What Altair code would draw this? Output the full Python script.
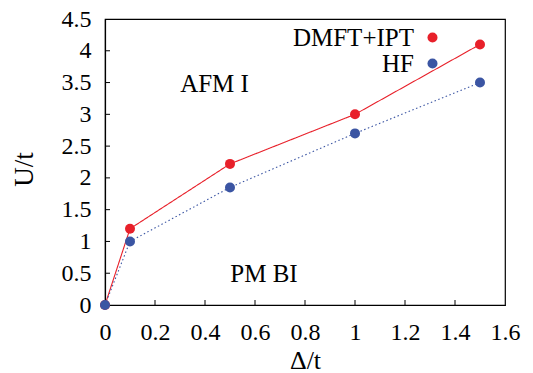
import altair as alt
import pandas as pd

delta = [0.0, 0.1, 0.5, 1.0, 1.5]
u_dmft = [0.0, 1.2, 2.22, 3.0, 4.1]
u_hf = [0.0, 1.0, 1.85, 2.7, 3.5]
series_names = ["DMFT+IPT", "HF"]
colors = ["#e8202a", "#3b55a3"]

x_ticks = [0, 0.2, 0.4, 0.6, 0.8, 1, 1.2, 1.4, 1.6]
y_ticks = [0, 0.5, 1, 1.5, 2, 2.5, 3, 3.5, 4, 4.5]

rows = []
for d, u in zip(delta, u_dmft):
    rows.append({"delta": d, "U": u, "series": series_names[0]})
for d, u in zip(delta, u_hf):
    rows.append({"delta": d, "U": u, "series": series_names[1]})
df = pd.DataFrame(rows)

ann_text = ["AFM I", "PM BI"]
ann_x = [0.438, 0.636]
ann_y = [3.48, 0.495]
ann = pd.DataFrame({"x": ann_x, "y": ann_y, "t": ann_text})

FONT = "Liberation Serif"
xscale = alt.Scale(domain=[0, 1.6], nice=False)
yscale = alt.Scale(domain=[0, 4.5], nice=False)
cscale = alt.Scale(domain=series_names, range=colors)

xaxis = alt.Axis(values=x_ticks, tickSize=0, labelExpr="format(datum.value, '~g')",
                 labelOverlap=False, labelFont=FONT, labelFontSize=24,
                 titleFont=FONT, titleFontSize=26, titleFontWeight="normal",
                 labelPadding=15, titleY=55, titleBaseline="middle", grid=False,
                 labelFlush=False)
yaxis = alt.Axis(values=y_ticks, tickSize=0, labelExpr="format(datum.value, '~g')",
                 labelOverlap=False, labelFont=FONT, labelFontSize=24,
                 titleFont=FONT, titleFontSize=27, titleFontWeight="normal",
                 labelPadding=14, titleX=-81, titleY=150, titleBaseline="middle",
                 titleAlign="center", grid=False, labelFlush=False)


def X(field):
    return alt.X(field, type="quantitative", scale=xscale, axis=xaxis, title="Δ/t")


def Y(field):
    return alt.Y(field, type="quantitative", scale=yscale, axis=yaxis, title="U/t")


legend = alt.Legend(title=None, orient="none", legendX=315, legendY=6,
                    labelAlign="right", labelOffset={"expr": "-31"}, labelFontSize=25,
                    labelFont=FONT, symbolSize=100, symbolType="circle", symbolStrokeWidth=0,
                    rowPadding=0, padding=0, labelLimit=300)

lines = alt.Chart(df).mark_line(strokeWidth=1.1, clip=False).encode(
    x=X("delta"), y=Y("U"),
    color=alt.Color("series:N", scale=cscale, legend=legend),
    strokeDash=alt.StrokeDash("series:N", scale=alt.Scale(domain=series_names, range=[[1, 0], [1.5, 2.5]]), legend=None),
)

pts = alt.Chart(df).mark_circle(size=100, opacity=1, clip=False).encode(
    x=X("delta"), y=Y("U"),
    color=alt.Color("series:N", scale=cscale, legend=legend),
)

xt = pd.DataFrame({"v": x_ticks[1:-1]})
yt = pd.DataFrame({"w": y_ticks[1:-1]})
ticks_x = alt.Chart(xt).mark_rule(color="black", strokeWidth=1).encode(
    x=X("v"),
    y=alt.value(281),
    y2=alt.value(286),
)
ticks_y = alt.Chart(yt).mark_rule(color="black", strokeWidth=1).encode(
    y=Y("w"),
    x=alt.value(0),
    x2=alt.value(5),
)

texts = alt.Chart(ann).mark_text(font=FONT, fontSize=25, color="black").encode(
    x=X("x"), y=Y("y"), text="t:N"
)

chart = alt.layer(lines, ticks_x, ticks_y, pts, texts).properties(
    width=400, height=286,
    autosize=alt.AutoSizeParams(type="none"),
    padding={"left": 105, "top": 19, "right": 28, "bottom": 68},
    background="white",
).configure_view(stroke="black", strokeWidth=1.2).configure_axis(
    labelColor="black", titleColor="black", domainColor="black", tickColor="black",
    domainWidth=1.2,
)

chart.save("out.html", embed_options={"renderer": "svg", "actions": False})
